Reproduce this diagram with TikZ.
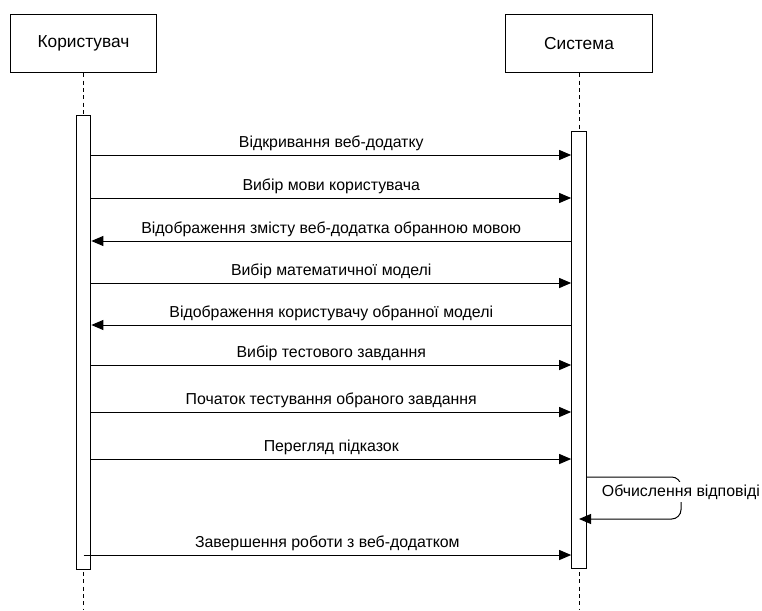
\documentclass[tikz,border=0pt]{standalone}
\usepackage{fontspec}
\setmainfont{Liberation Sans}
\usetikzlibrary{arrows.meta,positioning}

\begin{document}
\begin{tikzpicture}[
  x=0.75pt,y=-0.75pt,
  >={Triangle[length=9pt,width=7.5pt]},
  head/.style={draw,line width=.75pt,minimum width=110pt,minimum height=44pt,
    font=\fontsize{13}{15}\selectfont},
  act/.style={draw,fill=white,line width=.75pt,minimum width=11pt,inner sep=0pt},
  life/.style={line width=.75pt,dash pattern=on 3pt off 2.5pt},
  msg/.style={line width=.75pt,->},
  every node/.style={font=\fontsize{11.9}{14}\selectfont}
]
  \useasboundingbox (0,0) rectangle (762,610);
  % lifeline heads
  \node[head] (user) at (83.5,43.5) {Користувач};
  \node[head] (sys) at (579,43.5) {Система};
  \draw[life] (user.south) -- (user.south |- 0,610);
  \draw[life] (sys.south) -- (sys.south |- 0,610);
  % activations
  \node[act,minimum height=340pt] (uact) at (83.5,342.5) {};
  \node[act,minimum height=327.75pt] (sact) at (579,349.5) {};
  % calls
  \foreach \y/\txt in {155/Відкривання веб-додатку,
      198/Вибір мови користувача,
      283/Вибір математичної моделі,
      365/Вибір тестового завдання,
      412/Початок тестування обраного завдання,
      459/Перегляд підказок}
    \draw[msg] (uact.east |- 0,\y) -- node[above,inner sep=2.5pt] {\txt} (sact.west |- 0,\y);
  % replies
  \foreach \y/\txt in {241/Відображення змісту веб-додатка обранною мовою,
      325/Відображення користувачу обранної моделі}
    \draw[msg] (sact.west |- 0,\y) -- node[above,inner sep=2.5pt] {\txt} (uact.east |- 0,\y);
  % self call
  \draw[msg,rounded corners=7pt] (sact.east |- 0,477) -- (681,477) -- (681,519)
    -- (sact |- 0,519);
  \node[fill=white,anchor=west,inner sep=2pt] (calc) at (599,492) {Обчислення відповіді};
  \draw[msg] (uact |- 0,555) -- node[above,inner sep=2.5pt] {Завершення роботи з веб-додатком}
    (sact.west |- 0,555);
\end{tikzpicture}
\end{document}
